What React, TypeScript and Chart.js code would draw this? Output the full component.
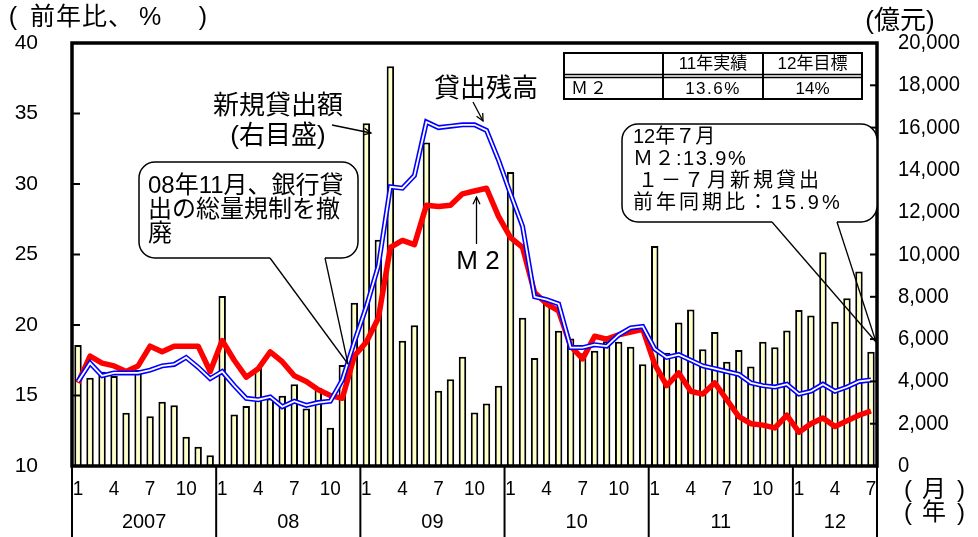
import React, { useEffect, useRef } from 'react';
import { Chart, registerables } from 'chart.js';

Chart.register(...registerables);

// ---------------- data ----------------
const years = ['2007', '08', '09', '10', '11', '12'];
const monthsPerYear = [12, 12, 12, 12, 12, 7];
const monthTickLabels = [1, 4, 7, 10];

// 新規貸出額 (億元, right axis)
const newLoans2007 = [5720, 4175, 4460, 4255, 2520, 4540, 2350, 3040, 2870, 1385, 913, 505];
const newLoans2008 = [8040, 2440, 2840, 4650, 3190, 3320, 3860, 2720, 3700, 1810, 4770, 7720];
const newLoans2009 = [16200, 10700, 18900, 5920, 6650, 15300, 3560, 4100, 5170, 2530, 2950, 3800];
const newLoans2010 = [13900, 7010, 5110, 7740, 6390, 6030, 5330, 5450, 5900, 5880, 5640, 4810];
const newLoans2011 = [10400, 5360, 6790, 7400, 5520, 6340, 4930, 5490, 4700, 5870, 5620, 6410];
const newLoans2012 = [7380, 7110, 10110, 6820, 7930, 9200, 5400];

// M2 前年比 (%, left axis)
const m2_2007 = [15.9, 17.8, 17.3, 17.1, 16.7, 17.1, 18.5, 18.1, 18.5, 18.5, 18.5, 16.7];
const m2_2008 = [18.9, 17.5, 16.3, 16.9, 18.1, 17.4, 16.4, 16.0, 15.4, 15.0, 14.8, 17.8];
const m2_2009 = [18.8, 20.5, 25.5, 26.0, 25.7, 28.5, 28.4, 28.5, 29.3, 29.5, 29.7, 27.7];
const m2_2010 = [26.2, 25.5, 22.3, 21.5, 21.0, 18.5, 17.6, 19.2, 19.0, 19.3, 19.5, 19.7];
const m2_2011 = [17.2, 15.7, 16.6, 15.3, 15.1, 15.9, 14.7, 13.5, 13.0, 12.9, 12.7, 13.6];
const m2_2012 = [12.4, 13.0, 13.4, 12.8, 13.2, 13.6, 13.9];

// 貸出残高 前年比 (%, left axis)
const loan2007 = [16.0, 17.3, 16.4, 16.6, 16.6, 16.6, 16.8, 17.1, 17.2, 17.7, 17.0, 16.2];
const loan2008 = [16.7, 15.7, 14.8, 14.7, 14.9, 14.2, 14.6, 14.3, 14.5, 14.6, 16.1, 18.8];
const loan2009 = [21.3, 24.2, 29.8, 29.7, 30.6, 34.4, 34.0, 34.1, 34.2, 34.2, 33.8, 31.7];
const loan2010 = [29.3, 27.0, 22.0, 21.8, 21.5, 18.4, 18.4, 18.6, 18.5, 19.3, 19.8, 19.9];
const loan2011 = [18.3, 17.7, 17.9, 17.5, 17.1, 16.9, 16.7, 16.5, 15.9, 15.7, 15.6, 15.8];
const loan2012 = [15.1, 15.3, 15.8, 15.3, 15.6, 16.0, 16.1];

const leftTicks = [10, 15, 20, 25, 30, 35, 40];
const rightTicks = [0, 2000, 4000, 6000, 8000, 10000, 12000, 14000, 16000, 18000, 20000];

const tableHeader = ['', '11年実績', '12年目標'];
const tableRow = ['Ｍ２', '13.6%', '14%'];

const leftNoteLines = ['08年11月、銀行貸', '出の総量規制を撤', '廃'];
const rightNoteLines = ['12年７月', 'Ｍ２:13.9%', '１－７月新規貸出', '前年同期比：15.9%'];

// ---------------- derived ----------------
const newLoans = [...newLoans2007, ...newLoans2008, ...newLoans2009, ...newLoans2010, ...newLoans2011, ...newLoans2012];
const m2 = [...m2_2007, ...m2_2008, ...m2_2009, ...m2_2010, ...m2_2011, ...m2_2012];
const loans = [...loan2007, ...loan2008, ...loan2009, ...loan2010, ...loan2011, ...loan2012];
const categories: string[] = [];
years.forEach((y, i) => {
  for (let m = 1; m <= monthsPerYear[i]; m++) categories.push(`${y}-${m}`);
});

const LAT = '"Liberation Sans", Arial, "Noto Sans CJK JP", sans-serif';

function drawText(ctx: CanvasRenderingContext2D, s: string, x: number, y: number, size: number, align: CanvasTextAlign = 'left', sx = 1, ls = 0) {
  ctx.save();
  ctx.font = `${size}px ${LAT}`;
  ctx.textAlign = align;
  ctx.textBaseline = 'middle';
  (ctx as any).letterSpacing = `${ls}px`;
  ctx.fillStyle = '#000';
  ctx.translate(x, y);
  ctx.scale(sx, 1);
  ctx.fillText(s, 0, 0);
  ctx.restore();
}

function seg(ctx: CanvasRenderingContext2D, x1: number, y1: number, x2: number, y2: number) {
  ctx.beginPath();
  ctx.moveTo(x1, y1);
  ctx.lineTo(x2, y2);
  ctx.stroke();
}

function arrow(ctx: CanvasRenderingContext2D, x1: number, y1: number, x2: number, y2: number, size = 9) {
  seg(ctx, x1, y1, x2, y2);
  const ang = Math.atan2(y2 - y1, x2 - x1);
  const a1 = ang + Math.PI - 0.45;
  const a2 = ang + Math.PI + 0.45;
  ctx.beginPath();
  ctx.moveTo(x2 + size * Math.cos(a1), y2 + size * Math.sin(a1));
  ctx.lineTo(x2, y2);
  ctx.lineTo(x2 + size * Math.cos(a2), y2 + size * Math.sin(a2));
  ctx.stroke();
}

function callout(ctx: CanvasRenderingContext2D, l: number, t: number, r: number, b: number, rad: number, wl: number, wr: number, tx: number, ty: number) {
  ctx.save();
  ctx.beginPath();
  ctx.moveTo(l + rad, t);
  ctx.arcTo(r, t, r, b, rad);
  ctx.arcTo(r, b, l, b, rad);
  ctx.arcTo(l, b, l, t, rad);
  ctx.arcTo(l, t, r, t, rad);
  ctx.closePath();
  ctx.fillStyle = '#fff';
  ctx.fill();
  ctx.strokeStyle = '#000';
  ctx.lineWidth = 1.5;
  ctx.beginPath();
  ctx.moveTo(wr, b);
  ctx.arcTo(r, b, r, t, rad);
  ctx.arcTo(r, t, l, t, rad);
  ctx.arcTo(l, t, l, b, rad);
  ctx.arcTo(l, b, r, b, rad);
  ctx.lineTo(wl, b);
  ctx.stroke();
  ctx.lineWidth = 1.3;
  seg(ctx, wl, b, tx, ty);
  seg(ctx, wr, b, tx, ty);
  ctx.restore();
}

const overlay = {
  id: 'overlay',
  afterDatasetsDraw(chart: any) {
    const { ctx, chartArea: a, scales } = chart;
    const xs = scales.x;
    const yl = scales.y;
    const yr = scales.y2;
    ctx.save();
    ctx.strokeStyle = '#000';

    // ticks
    ctx.lineWidth = 2;
    leftTicks.forEach((v) => {
      const y = yl.getPixelForValue(v);
      seg(ctx, a.left, y, a.left + 8, y);
      drawText(ctx, String(v), 38, y, 21, 'right');
    });
    rightTicks.forEach((v) => {
      const y = yr.getPixelForValue(v);
      seg(ctx, a.right - 7, y, a.right, y);
      drawText(ctx, v.toLocaleString('en-US'), 898, y, 22, 'left', 0.92);
    });

    // plot frame
    ctx.lineWidth = 3.5;
    ctx.strokeRect(a.left, a.top, a.right - a.left, a.bottom - a.top);

    // x axis table
    const half = (xs.getPixelForValue(1) - xs.getPixelForValue(0)) / 2;
    let start = 0;
    ctx.lineWidth = 2;
    years.forEach((yLabel, i) => {
      const xL = xs.getPixelForValue(start) - half;
      const xR = i === years.length - 1 ? a.right : xs.getPixelForValue(start + monthsPerYear[i]) - half;
      seg(ctx, xL, a.bottom, xL, 537);
      if (i === years.length - 1) seg(ctx, xR, a.bottom, xR, 537);
      monthTickLabels.forEach((m) => {
        if (m <= monthsPerYear[i]) {
          drawText(ctx, String(m), xs.getPixelForValue(start + m - 1), 489, 21, 'center', 0.9);
        }
      });
      drawText(ctx, yLabel, (xL + xR) / 2, 522, 21, 'center', 0.95);
      start += monthsPerYear[i];
    });
    drawText(ctx, '(', 908, 490, 24, 'center');
    drawText(ctx, '月', 934, 490, 24, 'center');
    drawText(ctx, ')', 961, 490, 24, 'center');
    drawText(ctx, '(', 908, 513, 24, 'center');
    drawText(ctx, '年', 934, 513, 24, 'center');
    drawText(ctx, ')', 961, 513, 24, 'center');

    // axis titles
    drawText(ctx, '(', 13, 18, 25, 'center');
    drawText(ctx, '前年比、', 30, 18, 25, 'left', 1, 1);
    drawText(ctx, '%', 150, 18, 25, 'center');
    drawText(ctx, ')', 203, 18, 25, 'center');
    drawText(ctx, '(億元)', 900, 22, 26, 'center');

    // table
    const tL = 564, tR = 862, tT = 53, tB = 99;
    const cols = [tL, 663, 763, tR];
    ctx.fillStyle = '#fff';
    ctx.fillRect(tL, tT, tR - tL, tB - tT);
    ctx.lineWidth = 2;
    ctx.strokeRect(tL, tT, tR - tL, tB - tT);
    ctx.lineWidth = 1.5;
    seg(ctx, tL, 74.5, tR, 74.5);
    seg(ctx, tL, 77.5, tR, 77.5);
    ctx.lineWidth = 2;
    seg(ctx, cols[1], tT, cols[1], tB);
    seg(ctx, cols[2], tT, cols[2], tB);
    for (let c = 1; c < 3; c++) {
      drawText(ctx, tableHeader[c], (cols[c] + cols[c + 1]) / 2, 64.5, 17, 'center');
      drawText(ctx, tableRow[c], (cols[c] + cols[c + 1]) / 2, 89, 17, 'center', 1, c === 1 ? 1.5 : 0);
    }
    drawText(ctx, tableRow[0], 571, 89, 17, 'left', 1, 2);

    // left callout
    callout(ctx, 139, 162, 358, 258, 16, 270, 325, 348, 364);
    leftNoteLines.forEach((s, i) => drawText(ctx, s, 148, 186 + i * 24, 24, 'left'));

    // right callout
    callout(ctx, 622, 124, 877, 222, 16, 772, 837, 876, 342);
    drawText(ctx, rightNoteLines[0], 633, 137, 20, 'left');
    drawText(ctx, rightNoteLines[1], 633, 159, 20, 'left', 1, 1.5);
    drawText(ctx, rightNoteLines[2], 638, 181, 20, 'left', 1, 3);
    drawText(ctx, rightNoteLines[3], 633, 203, 20, 'left', 1, 3);

    // labels with arrows
    drawText(ctx, '新規貸出額', 278, 107, 26, 'center');
    drawText(ctx, '(右目盛)', 278, 137, 26, 'center');
    ctx.lineWidth = 1.3;
    arrow(ctx, 332, 125, 371, 133, 8);

    drawText(ctx, '貸出残高', 486, 90, 26, 'center');
    arrow(ctx, 473, 102, 483, 121, 8);

    drawText(ctx, 'M 2', 478, 262, 26, 'center');
    arrow(ctx, 476.5, 244, 476.5, 197, 8);

    ctx.restore();
  },
};

export default function App() {
  const ref = useRef<HTMLCanvasElement | null>(null);
  useEffect(() => {
    if (!ref.current) return;
    const chart = new Chart(ref.current, {
      type: 'bar',
      data: {
        labels: categories,
        datasets: [
          {
            type: 'line',
            label: '貸出残高(inner)',
            data: loans,
            yAxisID: 'y',
            borderColor: '#ffffff',
            borderWidth: 1.8,
            pointRadius: 0,
            tension: 0,
            order: 0,
          } as any,
          {
            type: 'line',
            label: '貸出残高',
            data: loans,
            yAxisID: 'y',
            borderColor: '#0000ff',
            borderWidth: 5,
            pointRadius: 0,
            tension: 0,
            order: 1,
          } as any,
          {
            type: 'line',
            label: 'M2',
            data: m2,
            yAxisID: 'y',
            borderColor: '#ff0000',
            borderWidth: 5.5,
            pointRadius: 0,
            tension: 0,
            borderJoinStyle: 'round',
            order: 2,
          } as any,
          {
            type: 'bar',
            label: '新規貸出額',
            data: newLoans,
            yAxisID: 'y2',
            backgroundColor: '#ffffc8',
            borderColor: '#000000',
            borderWidth: 2,
            barPercentage: 0.62,
            categoryPercentage: 1,
            order: 3,
          } as any,
        ],
      },
      options: {
        animation: false,
        responsive: false,
        devicePixelRatio: 1,
        layout: { padding: { left: 72, right: 101, top: 43, bottom: 71 } },
        plugins: { legend: { display: false }, tooltip: { enabled: false } },
        scales: {
          x: { type: 'category', display: false, offset: true, grid: { display: false } },
          y: { type: 'linear', display: false, min: 10, max: 40 },
          y2: { type: 'linear', display: false, min: 0, max: 20000, position: 'right' },
        },
      },
      plugins: [overlay],
    });
    return () => chart.destroy();
  }, []);
  return (
    <div style={{ position: 'fixed', left: 0, top: 0, width: 978, height: 537, background: '#fff' }}>
      <canvas ref={ref} width={978} height={537} style={{ display: 'block', width: 978, height: 537 }} />
    </div>
  );
}
